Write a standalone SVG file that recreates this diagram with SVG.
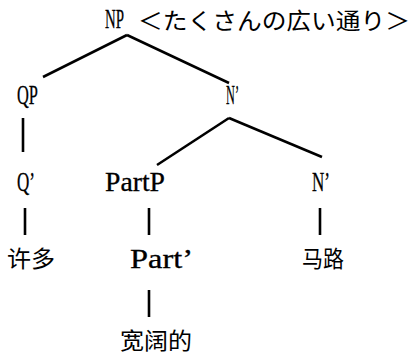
<svg xmlns="http://www.w3.org/2000/svg" width="416" height="358" viewBox="0 0 416 358">
<style>
.lat{font-family:"Liberation Serif","DejaVu Serif",serif;font-size:27px;fill:#000;stroke:#000;stroke-width:0.3}
.cjk{font-family:"Noto Sans CJK SC","Noto Sans CJK JP",sans-serif;font-size:23px;fill:#000}
.edge{stroke:#000;stroke-width:2.6;fill:none;stroke-linecap:butt}
</style>
<rect width="416" height="358" fill="#fff"/>
<g id="connectors">
<line class="edge" x1="127" y1="35" x2="43" y2="77"/>
<line class="edge" x1="127" y1="35" x2="229" y2="83"/>
<line class="edge" x1="23" y1="118" x2="23" y2="152"/>
<line class="edge" x1="229" y1="118" x2="157" y2="165"/>
<line class="edge" x1="229" y1="118" x2="322" y2="157"/>
<line class="edge" x1="25" y1="208" x2="25" y2="235"/>
<line class="edge" x1="149" y1="208" x2="149" y2="235"/>
<line class="edge" x1="320" y1="208" x2="320" y2="235"/>
<line class="edge" x1="149" y1="290" x2="149" y2="317"/>
</g>
<g id="np"><text class="lat" x="105" y="28" textLength="19" lengthAdjust="spacingAndGlyphs">NP</text><text class="cjk" x="138" y="29" textLength="272" lengthAdjust="spacingAndGlyphs">＜たくさんの広い通り＞</text></g>
<g id="qp"><text class="lat" x="17" y="104" textLength="21" lengthAdjust="spacingAndGlyphs">QP</text></g>
<g id="nbar1"><text class="lat" x="226" y="104" textLength="13" lengthAdjust="spacingAndGlyphs">N’</text></g>
<g id="qbar"><text class="lat" x="17" y="191" textLength="18" lengthAdjust="spacingAndGlyphs">Q’</text></g>
<g id="partp"><text class="lat" x="105" y="191" textLength="60" lengthAdjust="spacingAndGlyphs">PartP</text></g>
<g id="nbar2"><text class="lat" x="312" y="191" textLength="18" lengthAdjust="spacingAndGlyphs">N’</text></g>
<g id="xuduo"><text class="cjk" x="7" y="267" textLength="48" lengthAdjust="spacingAndGlyphs">许多</text></g>
<g id="partbar"><text class="lat" x="130" y="268" textLength="63" lengthAdjust="spacingAndGlyphs">Part’</text></g>
<g id="malu"><text class="cjk" x="302" y="267" textLength="42" lengthAdjust="spacingAndGlyphs">马路</text></g>
<g id="kuankuode"><text class="cjk" x="120" y="349" textLength="72" lengthAdjust="spacingAndGlyphs">宽阔的</text></g>
</svg>
